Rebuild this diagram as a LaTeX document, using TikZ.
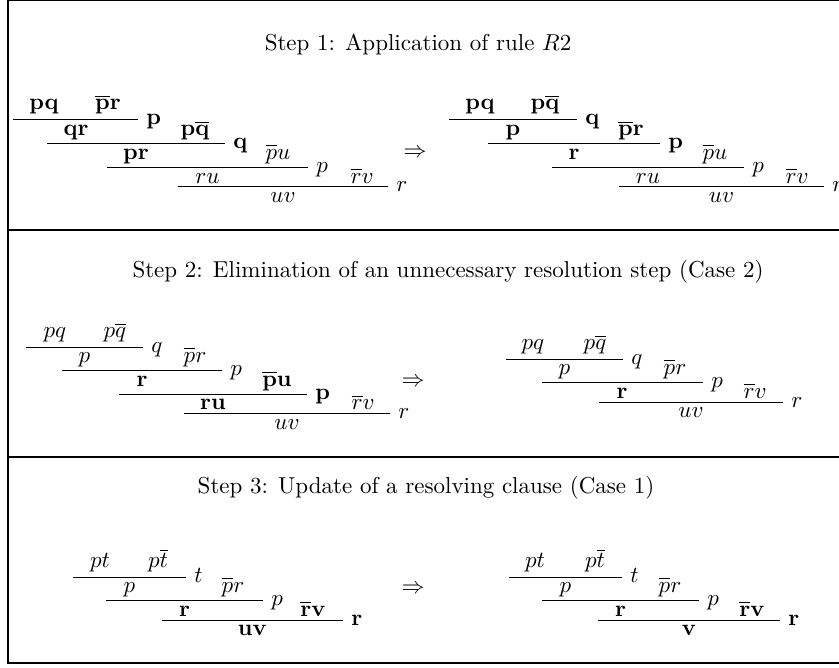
\documentclass[tikz,border=0pt]{standalone}
\newcommand{\cmpl}[1]{\overline{#1}}

\begin{document}
\begin{tikzpicture}[x=0.4348pt, y=-0.4348pt,
    lbl/.style={anchor=base, inner sep=0pt},
    piv/.style={anchor=base west, inner sep=0pt},
    rule/.style={line width=0.4pt},
    frame/.style={line width=0.6pt}]
  \useasboundingbox (0,0) rectangle (839,667);

  \draw[frame] (839,0.7) -- (8,0.7) -- (8,663) -- (839,663);
  \draw[frame] (8,230) -- (839,230);
  \draw[frame] (8,457) -- (839,457);

  \node[lbl] (title-1) at (418,50) {Step 1: Application of rule $R2$};
  \node[lbl] (title-2) at (448,277) {Step 2: Elimination of an unnecessary resolution step (Case 2)};
  \node[lbl] (title-3) at (426,493) {Step 3: Update of a resolving clause (Case 1)};

  \node (to-1) at (415,153) {$\Rightarrow$};
  \node (to-2) at (413,382) {$\Rightarrow$};
  \node (to-3) at (413,589) {$\Rightarrow$};

  % step 1
  \foreach \n/\xa/\xb/\y/\p in {1/13/138/119/\mathbf{p}, 2/47/225/143/\mathbf{q}, 3/107/308/167/p, 4/178/388/186/r} {
    \draw[rule] (\xa,\y) -- (\xb,\y);
    \node[piv] (s1a-\n) at (\xb+8,\y+5) {$\p$};
  }
  \foreach \nm/\x/\y/\t in {pq/44/109.5/\mathbf{pq}, pr/108/109.5/\mathbf{\cmpl{p}r},
      qr/76/135.5/\mathbf{qr}, pq2/195/135.5/\mathbf{p\cmpl{q}},
      pr2/136/159/\mathbf{pr}, pu/278/159/\cmpl{p}u,
      ru/207.5/183/ru, rv/362/183/\cmpl{r}v, uv/283/202/uv} {
    \node[lbl] (s1a-\nm) at (\x,\y) {$\t$};
  }

  \foreach \n/\xa/\xb/\y/\p in {1/449/577/119/\mathbf{q}, 2/488/660/143/\mathbf{p}, 3/552/744/167/p, 4/619/824/186/r} {
    \draw[rule] (\xa,\y) -- (\xb,\y);
    \node[piv] (s1b-\n) at (\xb+8,\y+5) {$\p$};
  }
  \foreach \nm/\x/\y/\t in {pq/480/109.5/\mathbf{pq}, pq2/545/109.5/\mathbf{p\cmpl{q}},
      p/513/135.5/\mathbf{p}, pr/631/135.5/\mathbf{\cmpl{p}r},
      r/574/159/\mathbf{r}, pu/715/159/\cmpl{p}u,
      ru/648/183/ru, rv/797/183/\cmpl{r}v, uv/721.5/202/uv} {
    \node[lbl] (s1b-\nm) at (\x,\y) {$\t$};
  }

  % step 2
  \foreach \n/\xa/\xb/\y/\p in {1/26/143/347/q, 2/62/222/370.6/p, 3/119/307/394/\mathbf{p}, 4/184/390/413.5/r} {
    \draw[rule] (\xa,\y) -- (\xb,\y);
    \node[piv] (s2a-\n) at (\xb+8,\y+5) {$\p$};
  }
  \foreach \nm/\x/\y/\t in {pq/55/337.5/pq, pq2/115/337.5/p\cmpl{q},
      p/84.5/362/p, pr/195/362/\cmpl{p}r,
      r/142/386/\mathbf{r}, pu/277/386/\mathbf{\cmpl{p}u},
      ru/213/409.5/\mathbf{ru}, rv/363/409.5/\cmpl{r}v, uv/287/429/uv} {
    \node[lbl] (s2a-\nm) at (\x,\y) {$\t$};
  }

  \foreach \n/\xa/\xb/\y/\p in {1/506/623/359/q, 2/542/703/382.6/p, 3/599/783/402/r} {
    \draw[rule] (\xa,\y) -- (\xb,\y);
    \node[piv] (s2b-\n) at (\xb+8,\y+5) {$\p$};
  }
  \foreach \nm/\x/\y/\t in {pq/533/349.5/pq, pq2/595/349.5/p\cmpl{q},
      p/564.5/374/p, pr/675/374/\cmpl{p}r,
      r/622/398/\mathbf{r}, rv/755/398/\cmpl{r}v, uv/691/417/uv} {
    \node[lbl] (s2b-\nm) at (\x,\y) {$\t$};
  }

  % step 3
  \foreach \n/\xa/\xb/\y/\p in {1/73/186/577/t, 2/106/263/600.6/p, 3/162/343/620/\mathbf{r}} {
    \draw[rule] (\xa,\y) -- (\xb,\y);
    \node[piv] (s3a-\n) at (\xb+8,\y+5) {$\p$};
  }
  \foreach \nm/\x/\y/\t in {pt/100/567.5/pt, pt2/158/567.5/p\cmpl{t},
      p/129.5/592/p, pr/233/592/\cmpl{p}r,
      r/184.5/616/\mathbf{r}, rv/313/616/\mathbf{\cmpl{r}v}, uv/252.5/635.5/\mathbf{uv}} {
    \node[lbl] (s3a-\nm) at (\x,\y) {$\t$};
  }

  \foreach \n/\xa/\xb/\y/\p in {1/509/622/577/t, 2/542/699/600.6/p, 3/598/780/620/\mathbf{r}} {
    \draw[rule] (\xa,\y) -- (\xb,\y);
    \node[piv] (s3b-\n) at (\xb+8,\y+5) {$\p$};
  }
  \foreach \nm/\x/\y/\t in {pt/535/567.5/pt, pt2/595/567.5/p\cmpl{t},
      p/565.5/592/p, pr/670/592/\cmpl{p}r,
      r/620.5/616/\mathbf{r}, rv/752/616/\mathbf{\cmpl{r}v}, v/689/635.5/\mathbf{v}} {
    \node[lbl] (s3b-\nm) at (\x,\y) {$\t$};
  }

\end{tikzpicture}
\end{document}
